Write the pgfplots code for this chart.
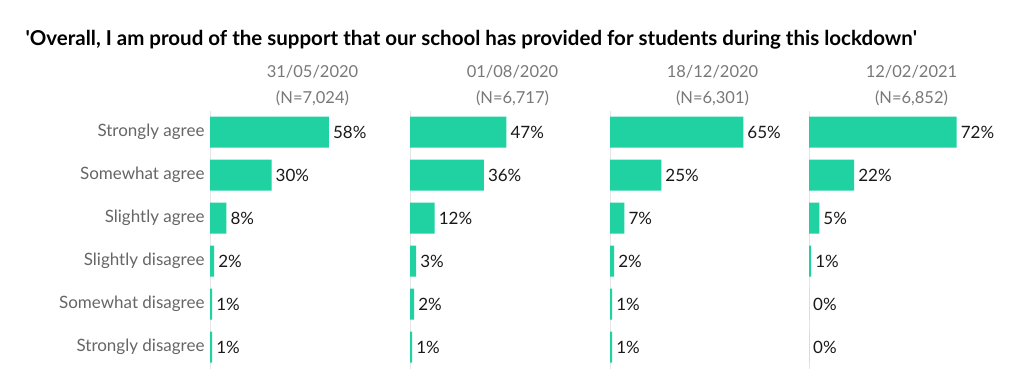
\documentclass[border=0pt]{standalone}
\usepackage{pgfplots}
\pgfplotsset{compat=1.18}
\usepackage{fontspec}
\setmainfont{Lato}
\definecolor{barc}{RGB}{32,209,162}
\definecolor{lab}{RGB}{102,102,102}
\definecolor{dat}{RGB}{120,120,120}
\definecolor{val}{RGB}{25,25,25}
\pgfplotsset{panel/.style={
  xbar, bar width=31pt, scale only axis, width=205pt, height=258pt,
  xmin=0, xmax=100, ymin=0.5, ymax=6.5, y dir=reverse,
  axis x line=none, axis y line*=left,
  y axis line style={draw=gray!20, -},
  ytick={1,2,3,4,5,6}, major tick length=0pt,
  yticklabel style={font=\fontsize{17}{20}\selectfont, text=lab, xshift=-2pt},
  point meta=x,
  /pgf/number format/assume math mode=true,
  nodes near coords={\pgfmathprintnumber{\pgfplotspointmeta}\%},
  every node near coord/.append style={font=\fontsize{17}{20}\selectfont, text=val, anchor=west, inner sep=4pt},
  title style={font=\fontsize{16.5}{26}\selectfont, text=dat, align=center, anchor=south, at={(0.5,1)}, yshift=-5pt},
  anchor=south west,
}}
\begin{document}
\begin{tikzpicture}
\useasboundingbox (0,0) rectangle (1024pt,384pt);
\node[anchor=base west, font=\fontsize{20.5}{24}\selectfont\bfseries, text=black] at (22pt,339pt)
  {\textquotesingle Overall, I am proud of the support that our school has provided for students during this lockdown\textquotesingle};
\begin{axis}[panel, at={(210pt,15.5pt)}, title={31/05/2020\\(N=7,024)},
  yticklabels={Strongly agree,Somewhat agree,Slightly agree,Slightly disagree,Somewhat disagree,Strongly disagree}]
\addplot[fill=barc, draw=none] coordinates {(58,1) (30,2) (8,3) (2,4) (1,5) (1,6)};
\end{axis}
\begin{axis}[panel, at={(410pt,15.5pt)}, title={01/08/2020\\(N=6,717)}, yticklabels={}]
\addplot[fill=barc, draw=none] coordinates {(47,1) (36,2) (12,3) (3,4) (2,5) (1,6)};
\end{axis}
\begin{axis}[panel, at={(610pt,15.5pt)}, title={18/12/2020\\(N=6,301)}, yticklabels={}]
\addplot[fill=barc, draw=none] coordinates {(65,1) (25,2) (7,3) (2,4) (1,5) (1,6)};
\end{axis}
\begin{axis}[panel, at={(809pt,15.5pt)}, title={12/02/2021\\(N=6,852)}, yticklabels={}]
\addplot[fill=barc, draw=none] coordinates {(72,1) (22,2) (5,3) (1,4) (0,5) (0,6)};
\end{axis}
\end{tikzpicture}
\end{document}
